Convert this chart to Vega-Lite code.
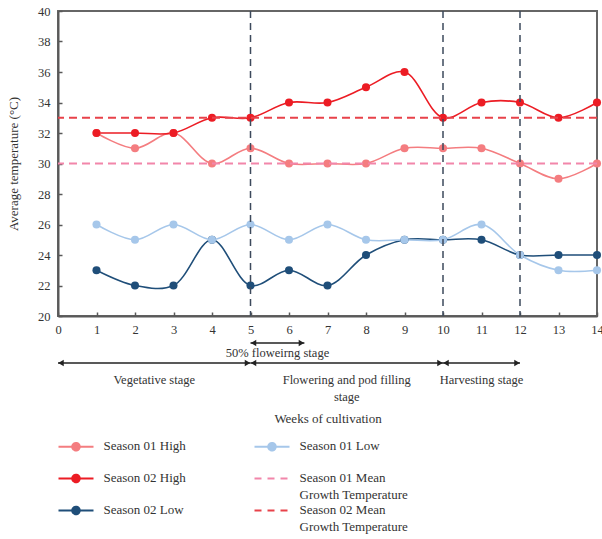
{
  "$schema": "https://vega.github.io/schema/vega-lite/v6.json",
  "autosize": {"type": "pad"},
  "padding": {"left": 6, "top": 4, "right": 0, "bottom": 0},
  "background": "white",
  "config": {
    "font": "Liberation Serif",
    "view": {"stroke": null},
    "axis": {"labelFont": "Liberation Serif", "titleFont": "Liberation Serif", "labelColor": "#333333", "titleColor": "#333333", "titleFontWeight": "normal", "labelOverlap": false},
    "text": {"font": "Liberation Serif"}
  },
  "bounds": "flush",
  "spacing": 27,
  "vconcat": [
    {
      "width": 539,
      "height": 305,
      "view": {"stroke": "#666666", "strokeWidth": 2},
      "encoding": {
        "x": {"field": "week", "type": "quantitative", "scale": {"domain": [0, 14], "nice": false},
          "axis": {"values": [0,1,2,3,4,5,6,7,8,9,10,11,12,13,14], "tickCount": 15, "title": null, "grid": false, "tickSize": -4, "tickColor": "#595959", "tickWidth": 1.5, "domainColor": "#595959", "domainWidth": 2, "labelFontSize": 12.5, "labelPadding": 11, "labelFlush": false, "labelOverlap": false, "labelSeparation": 0}},
        "y": {"field": "temp", "type": "quantitative", "scale": {"domain": [20, 40], "nice": false, "zero": false},
          "axis": {"values": [20,22,24,26,28,30,32,34,36,38,40], "tickCount": 11, "title": "Average temperature (°C)", "titleFontSize": 13, "titlePadding": 17, "grid": false, "tickSize": -4, "tickColor": "#595959", "tickWidth": 1.5, "domainColor": "#595959", "domainWidth": 2, "labelFontSize": 12.5, "labelPadding": 12, "labelOverlap": false, "labelSeparation": 0}}
      },
      "layer": [
        {
          "data": {"name": "temps", "values": [
            {"series": "Season 01 High", "week": 1, "temp": 32},
            {"series": "Season 01 High", "week": 2, "temp": 31},
            {"series": "Season 01 High", "week": 3, "temp": 32},
            {"series": "Season 01 High", "week": 4, "temp": 30},
            {"series": "Season 01 High", "week": 5, "temp": 31},
            {"series": "Season 01 High", "week": 6, "temp": 30},
            {"series": "Season 01 High", "week": 7, "temp": 30},
            {"series": "Season 01 High", "week": 8, "temp": 30},
            {"series": "Season 01 High", "week": 9, "temp": 31},
            {"series": "Season 01 High", "week": 10, "temp": 31},
            {"series": "Season 01 High", "week": 11, "temp": 31},
            {"series": "Season 01 High", "week": 12, "temp": 30},
            {"series": "Season 01 High", "week": 13, "temp": 29},
            {"series": "Season 01 High", "week": 14, "temp": 30},
            {"series": "Season 02 High", "week": 1, "temp": 32},
            {"series": "Season 02 High", "week": 2, "temp": 32},
            {"series": "Season 02 High", "week": 3, "temp": 32},
            {"series": "Season 02 High", "week": 4, "temp": 33},
            {"series": "Season 02 High", "week": 5, "temp": 33},
            {"series": "Season 02 High", "week": 6, "temp": 34},
            {"series": "Season 02 High", "week": 7, "temp": 34},
            {"series": "Season 02 High", "week": 8, "temp": 35},
            {"series": "Season 02 High", "week": 9, "temp": 36},
            {"series": "Season 02 High", "week": 10, "temp": 33},
            {"series": "Season 02 High", "week": 11, "temp": 34},
            {"series": "Season 02 High", "week": 12, "temp": 34},
            {"series": "Season 02 High", "week": 13, "temp": 33},
            {"series": "Season 02 High", "week": 14, "temp": 34},
            {"series": "Season 02 Low", "week": 1, "temp": 23},
            {"series": "Season 02 Low", "week": 2, "temp": 22},
            {"series": "Season 02 Low", "week": 3, "temp": 22},
            {"series": "Season 02 Low", "week": 4, "temp": 25},
            {"series": "Season 02 Low", "week": 5, "temp": 22},
            {"series": "Season 02 Low", "week": 6, "temp": 23},
            {"series": "Season 02 Low", "week": 7, "temp": 22},
            {"series": "Season 02 Low", "week": 8, "temp": 24},
            {"series": "Season 02 Low", "week": 9, "temp": 25},
            {"series": "Season 02 Low", "week": 10, "temp": 25},
            {"series": "Season 02 Low", "week": 11, "temp": 25},
            {"series": "Season 02 Low", "week": 12, "temp": 24},
            {"series": "Season 02 Low", "week": 13, "temp": 24},
            {"series": "Season 02 Low", "week": 14, "temp": 24},
            {"series": "Season 01 Low", "week": 1, "temp": 26},
            {"series": "Season 01 Low", "week": 2, "temp": 25},
            {"series": "Season 01 Low", "week": 3, "temp": 26},
            {"series": "Season 01 Low", "week": 4, "temp": 25},
            {"series": "Season 01 Low", "week": 5, "temp": 26},
            {"series": "Season 01 Low", "week": 6, "temp": 25},
            {"series": "Season 01 Low", "week": 7, "temp": 26},
            {"series": "Season 01 Low", "week": 8, "temp": 25},
            {"series": "Season 01 Low", "week": 9, "temp": 25},
            {"series": "Season 01 Low", "week": 10, "temp": 25},
            {"series": "Season 01 Low", "week": 11, "temp": 26},
            {"series": "Season 01 Low", "week": 12, "temp": 24},
            {"series": "Season 01 Low", "week": 13, "temp": 23},
            {"series": "Season 01 Low", "week": 14, "temp": 23}
          ]},
          "mark": {"type": "line", "interpolate": "catmull-rom", "strokeWidth": 1.6},
          "encoding": {
            "color": {"field": "series", "type": "nominal",
              "scale": {
                "domain": ["Season 01 High", "Season 02 High", "Season 02 Low", "Season 01 Low", "Season 01 Mean Growth Temperature", "Season 02 Mean Growth Temperature"],
                "range": ["#f47d80", "#ec1c24", "#1f4e79", "#a6c7ea", "#f286aa", "#e8424a"]
              },
              "legend": {
                "orient": "none", "legendX": -8, "legendY": 429, "columns": 2, "title": null, "padding": 0,
                "symbolSize": 100, "symbolStrokeWidth": 2, "symbolOffset": 19.5, "labelOffset": 21,
                "labelFont": "Liberation Serif", "labelFontSize": 13, "labelColor": "#333333", "labelBaseline": "top", "labelLimit": 300,
                "columnPadding": 60, "rowPadding": 0,
                "labelExpr": "indexof(datum.label, 'Mean') >= 0 ? [slice(datum.label, 0, 14), slice(datum.label, 15)] : [datum.label, '']",
                "encode": {
                  "symbols": {"update": {
                    "shape": {"signal": "indexof(datum.label, 'Mean') >= 0 ? 'M-3.5,0H3.5' : 'M-3.5,0H3.5M0.75,0A0.75,0.75,0,1,1,-0.75,0A0.75,0.75,0,1,1,0.75,0Z'"},
                    "strokeDash": {"signal": "indexof(datum.label, 'Mean') >= 0 ? [7,6] : [1,0]"},
                    "fill": {"signal": "indexof(datum.label, 'Mean') >= 0 ? 'transparent' : scale('color', datum.value)"},
                    "stroke": {"signal": "scale('color', datum.value)"},
                    "opacity": {"value": 1}
                  }},
                  "labels": {"update": {"dy": {"value": -7}, "lineHeight": {"value": 17}}}
                }
              }
            }
          }
        },
        {
          "data": {"name": "temps"},
          "mark": {"type": "point", "filled": true, "size": 65, "opacity": 1},
          "encoding": {
            "color": {"field": "series", "type": "nominal"}
          }
        },
        {
          "data": {"values": [
            {"series": "Season 01 Mean Growth Temperature", "temp": 30},
            {"series": "Season 02 Mean Growth Temperature", "temp": 33}
          ]},
          "mark": {"type": "rule", "strokeDash": [8, 5], "strokeWidth": 2},
          "encoding": {
            "x": null,
            "color": {"field": "series", "type": "nominal"}
          }
        },
        {
          "data": {"values": [{"week": 5}, {"week": 10}, {"week": 12}]},
          "mark": {"type": "rule", "color": "#3d4a5c", "strokeDash": [7, 5], "strokeWidth": 1.5},
          "encoding": {"y": null}
        }
      ]
    },
    {
      "width": 539,
      "height": 20,
      "data": {"values": [
        {"label": "50% floweirng stage", "tier": "Sub-stage", "start": 5, "end": 6.4},
        {"label": "Vegetative stage", "tier": "Stage", "start": 0, "end": 5},
        {"label": "Flowering and pod filling\nstage", "tier": "Stage", "start": 5, "end": 10},
        {"label": "Harvesting stage", "tier": "Stage", "start": 10, "end": 12}
      ]},
      "layer": [
        {
          "mark": {"type": "rule", "color": "#222222", "strokeWidth": 1.3},
          "encoding": {
            "x": {"field": "start", "type": "quantitative", "scale": {"domain": [0, 14], "nice": false},
              "axis": {"title": "Weeks of cultivation", "labels": false, "ticks": false, "domain": false, "grid": false, "titlePadding": 49, "titleFontSize": 13}},
            "x2": {"field": "end"},
            "y": {"field": "tier", "type": "nominal", "scale": {"type": "point", "domain": ["Sub-stage", "Stage"], "padding": 0}, "axis": null}
          }
        },
        {
          "mark": {"type": "point", "shape": "triangle-right", "filled": true, "size": 40, "color": "#222222", "opacity": 1, "xOffset": -3},
          "encoding": {
            "x": {"field": "end", "type": "quantitative"},
            "y": {"field": "tier", "type": "nominal"}
          }
        },
        {
          "mark": {"type": "point", "shape": "triangle-left", "filled": true, "size": 40, "color": "#222222", "opacity": 1, "xOffset": 3},
          "encoding": {
            "x": {"field": "start", "type": "quantitative"},
            "y": {"field": "tier", "type": "nominal"}
          }
        },
        {
          "transform": [
            {"filter": "datum.tier === 'Sub-stage'"},
            {"fold": ["start", "end"], "as": ["bound", "week"]},
            {"aggregate": [{"op": "mean", "field": "week", "as": "mid"}], "groupby": ["label", "tier"]}
          ],
          "mark": {"type": "text", "fontSize": 12.5, "color": "#333333", "baseline": "middle", "dy": 10},
          "encoding": {
            "x": {"field": "mid", "type": "quantitative"},
            "y": {"field": "tier", "type": "nominal"},
            "text": {"field": "label"}
          }
        },
        {
          "transform": [
            {"filter": "datum.tier === 'Stage'"},
            {"fold": ["start", "end"], "as": ["bound", "week"]},
            {"aggregate": [{"op": "mean", "field": "week", "as": "mid"}], "groupby": ["label", "tier"]}
          ],
          "mark": {"type": "text", "fontSize": 12.5, "color": "#333333", "baseline": "top", "dy": 11, "lineBreak": "\n", "lineHeight": 17},
          "encoding": {
            "x": {"field": "mid", "type": "quantitative"},
            "y": {"field": "tier", "type": "nominal"},
            "text": {"field": "label"}
          }
        }
      ]
    }
  ]
}
